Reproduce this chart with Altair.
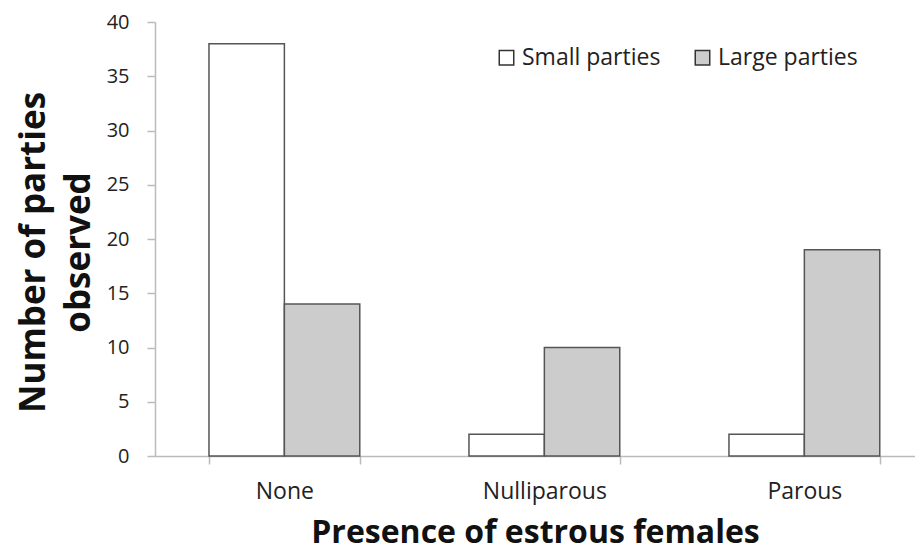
import altair as alt
import pandas as pd

categories = ["None", "Nulliparous", "Parous"]
small_parties = [38, 2, 2]
large_parties = [14, 10, 19]
series = ["Small parties", "Large parties"]

rows = []
for i, c in enumerate(categories):
    rows.append({"cat": c, "series": series[0], "value": small_parties[i]})
    rows.append({"cat": c, "series": series[1], "value": large_parties[i]})
df = pd.DataFrame(rows)

FONT = "Open Sans"

chart = alt.Chart(df).mark_bar(stroke="#555555", strokeWidth=1.5).encode(
    x=alt.X("cat:N", sort=categories,
            scale=alt.Scale(paddingInner=0.42, paddingOuter=0.1716, align=0.605),
            axis=alt.Axis(title="Presence of estrous females", labelAngle=0,
                          tickBand="extent", tickSize=8, tickColor="#bbbbbb",
                          domainColor="#bbbbbb", domainWidth=1.5, tickWidth=1.5,
                          labelFontSize=23, labelColor="#222222", labelPadding=16,
                          titleFontSize=32, titleFontWeight="bold", titleColor="#111111",
                          titlePadding=14)),
    xOffset=alt.XOffset("series:N", sort=series, scale=alt.Scale(paddingInner=0, paddingOuter=0)),
    y=alt.Y("value:Q", scale=alt.Scale(domain=[0, 40]),
            axis=alt.Axis(title=["Number of parties", "observed"], values=list(range(0, 41, 5)),
                          grid=False, tickSize=8, tickColor="#bbbbbb", domainColor="#bbbbbb",
                          domainWidth=1.5, tickWidth=1.5,
                          labelFontSize=20, labelColor="#222222", labelPadding=18,
                          titleFontSize=35, titleFontWeight="bold", titleColor="#111111",
                          titlePadding=10, titleLineHeight=45, titleY=230)),
    fill=alt.Fill("series:N", sort=series,
                  scale=alt.Scale(domain=series, range=["#ffffff", "#cccccc"]),
                  legend=alt.Legend(title=None, orient="none", legendX=340, legendY=24,
                                    direction="horizontal", symbolType="square",
                                    symbolSize=210, symbolStrokeColor="#333333",
                                    symbolStrokeWidth=1.5, labelFontSize=23,
                                    labelColor="#222222", columnPadding=30,
                                    labelOffset=4)),
).properties(
    width=760, height=434,
    autosize=alt.AutoSizeParams(type="none"),
    padding={"left": 147, "top": 14, "right": 0, "bottom": 94},
).configure(font=FONT).configure_view(stroke=None)

chart.save("out.html", embed_options={"renderer": "svg", "actions": False})
